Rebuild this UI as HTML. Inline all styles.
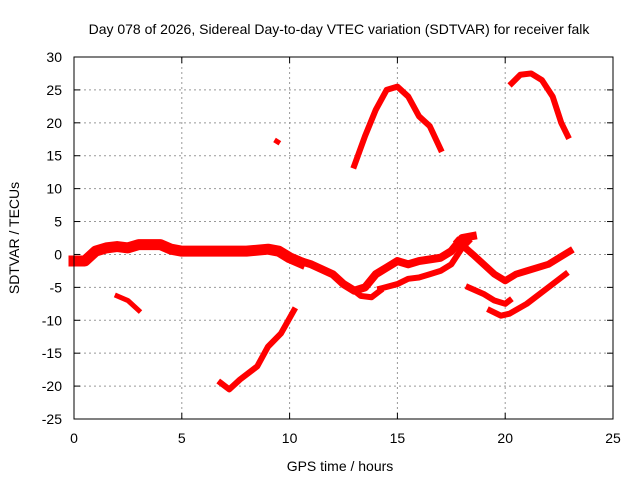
<!DOCTYPE html>
<html><head><meta charset="utf-8"><style>
body{margin:0;background:#fff}
svg text{font-family:"Liberation Sans",sans-serif;font-size:14px;fill:#000}
</style></head><body>
<svg id="chart" width="640" height="480" xmlns="http://www.w3.org/2000/svg">
<rect width="640" height="480" fill="#fff"/>
<text x="339" y="34" text-anchor="middle">Day 078 of 2026, Sidereal Day-to-day VTEC variation (SDTVAR) for receiver falk</text>
<text x="340" y="471" text-anchor="middle">GPS time / hours</text>
<text transform="translate(19,238) rotate(-90)" text-anchor="middle">SDTVAR / TECUs</text>
<g id="grid"></g><g id="marks"></g><g id="axes"></g>
</svg>
<script>
const xTicks=[0,5,10,15,20,25];
const yTicks=[30,25,20,15,10,5,0,-5,-10,-15,-20,-25];
const trackA_h=[0,0.5,1,1.5,2,2.5,3,3.5,4,4.5,5,6,7,8,9,9.5,10,10.5];
const trackA_v=[-1,-1,0.5,1,1.2,1,1.5,1.5,1.5,0.8,0.5,0.5,0.5,0.5,0.8,0.5,-0.5,-1.2];
const trackB_h=[10,11,12,12.5,13,13.5,14,14.5,15,15.5,16,17,17.5,18,18.5];
const trackB_v=[-0.5,-1.5,-3,-4.5,-5.5,-5,-3,-2,-1,-1.5,-1,-0.5,0.5,2.5,2.8];
const trackC_h=[12.8,13.3,13.8,14.2];
const trackC_v=[-5,-6.3,-6.5,-5.5];
const trackD_h=[14.2,15,15.5,16,16.5,17,17.5,18,18.3];
const trackD_v=[-5.2,-4.5,-3.7,-3.5,-3,-2.5,-1.5,1,2];
const trackE_h=[17.8,18.5,19,19.5,20,20.5,21,22,22.5,23];
const trackE_v=[2,0,-1.5,-3,-4,-3,-2.5,-1.5,-0.5,0.5];
const trackF_h=[18.3,19,19.5,20,20.2];
const trackF_v=[-5,-6,-7,-7.5,-7];
const trackG_h=[19.3,19.8,20.2,21,22,22.8];
const trackG_v=[-8.5,-9.3,-9,-7.5,-5,-3];
const trackH_h=[2,2.5,3];
const trackH_v=[-6.3,-7,-8.5];
const trackI_h=[6.8,7.2,7.7,8.5,9,9.6,10.2];
const trackI_v=[-19.5,-20.5,-19,-17,-14,-12,-8.5];
const trackJ_h=[13,13.5,14,14.5,15,15.5,16,16.5,17];
const trackJ_v=[13.5,18,22,25,25.5,24,21,19.5,16];
const trackK_h=[20.3,20.7,21.2,21.7,22.2,22.6,22.9];
const trackK_v=[26,27.3,27.5,26.5,24,20,18];
const trackL_h=[9.4,9.45];
const trackL_v=[17.2,17.1];
const NS="http://www.w3.org/2000/svg";
const X0=74,X1=613,Y0=419,Y1=57;
function xs(h){return X0+(h-0)/25*(X1-X0);}
function ys(v){return Y0-(v+25)/55*(Y0-Y1);}
const grid=document.getElementById('grid'),axes=document.getElementById('axes'),marks=document.getElementById('marks');
function mk(t,a,p){const e=document.createElementNS(NS,t);for(const k in a)e.setAttribute(k,a[k]);p.appendChild(e);return e;}
xTicks.forEach(t=>{
 if(t>0&&t<25){const g=mk('line',{x1:xs(t),x2:xs(t),y1:Y1,y2:Y0,stroke:'#999','stroke-dasharray':'2,3'},grid);
 
 }
 mk('line',{x1:xs(t),x2:xs(t),y1:Y0,y2:Y0-6,stroke:'#000'},axes);
 mk('line',{x1:xs(t),x2:xs(t),y1:Y1,y2:Y1+6,stroke:'#000'},axes);
 const l=mk('text',{x:xs(t),y:Y0+24,'text-anchor':'middle'},axes);l.textContent=t;
 
 
});
yTicks.forEach(t=>{
 if(t>-25&&t<30){const g=mk('line',{x1:X0,x2:X1,y1:ys(t),y2:ys(t),stroke:'#999','stroke-dasharray':'2,3'},grid);
 
 }
 mk('line',{x1:X0,x2:X0+6,y1:ys(t),y2:ys(t),stroke:'#000'},axes);
 mk('line',{x1:X1,x2:X1-6,y1:ys(t),y2:ys(t),stroke:'#000'},axes);
 const l=mk('text',{x:X0-12,y:ys(t)+5,'text-anchor':'end'},axes);l.textContent=t;
 
 
});
const fr=mk('rect',{x:X0,y:Y1,width:X1-X0,height:Y0-Y1,fill:'none',stroke:'#000'},axes);


const tracks=[[trackA_h,trackA_v,11],[trackB_h,trackB_v,8],[trackC_h,trackC_v,6],[trackD_h,trackD_v,6],[trackE_h,trackE_v,7],[trackF_h,trackF_v,6],[trackG_h,trackG_v,6],[trackH_h,trackH_v,5],[trackI_h,trackI_v,6],[trackJ_h,trackJ_v,6],[trackK_h,trackK_v,6],[trackL_h,trackL_v,5]];
tracks.forEach(([H,V,w])=>{
 const pts=H.map((h,i)=>xs(h)+','+ys(V[i])).join(' ');
 const p=mk('polyline',{points:pts,fill:'none',stroke:'#f00','stroke-width':w,'stroke-linejoin':'round','stroke-linecap':'square'},marks);
 
 
});
</script>
</body></html>
